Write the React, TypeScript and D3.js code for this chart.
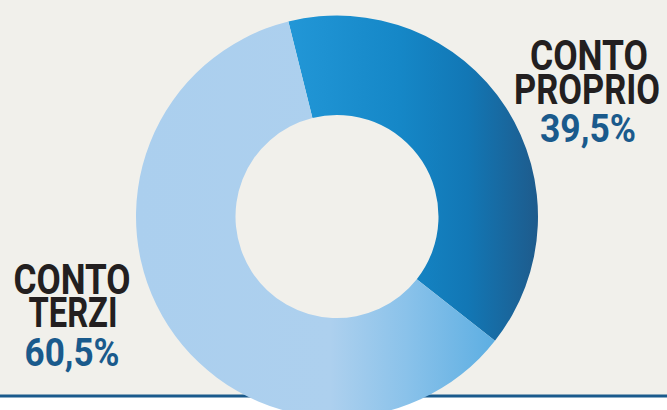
import React from "react";
import * as d3 from "d3";

const categories = ["CONTO PROPRIO", "CONTO TERZI"];
const shares = [39.5, 60.5];
const percentLabels = ["39,5%", "60,5%"];

const W = 667;
const H = 410;
const cx = 337;
const cy = 216.5;
const outerR = 201;
const innerR = 101.5;
const startDeg = -14;

export default function App() {
  const pie = d3
    .pie<number>()
    .sort(null)
    .value((d) => d)
    .startAngle((startDeg * Math.PI) / 180)
    .endAngle((startDeg * Math.PI) / 180 + 2 * Math.PI);
  const arcs = pie(shares);
  const arc = d3.arc<d3.PieArcDatum<number>>().innerRadius(innerR).outerRadius(outerR);
  const fills = ["url(#gDark)", "url(#gLight)"];

  const font = "Roboto, 'Noto Sans', sans-serif";
  const black = "#231f20";
  const blue = "#1a5a8c";

  return (
    <svg
      width={W}
      height={H}
      viewBox={`0 0 ${W} ${H}`}
      style={{ position: "fixed", top: 0, left: 0, display: "block" }}
    >
      <defs>
        <linearGradient id="gDark" gradientUnits="userSpaceOnUse" x1={287 - cx} y1={0} x2={538 - cx} y2={0}>
          <stop offset="0" stopColor="#2297d7" />
          <stop offset="0.45" stopColor="#1587c7" />
          <stop offset="0.72" stopColor="#1277b5" />
          <stop offset="1" stopColor="#1e5b8c" />
        </linearGradient>
        <linearGradient id="gLight" gradientUnits="userSpaceOnUse" x1={135 - cx} y1={0} x2={497 - cx} y2={0}>
          <stop offset="0" stopColor="#abcfee" />
          <stop offset="0.54" stopColor="#add0ee" />
          <stop offset="0.75" stopColor="#8ac2ea" />
          <stop offset="1" stopColor="#5caee2" />
        </linearGradient>
      </defs>
      <rect x={0} y={0} width={W} height={H} fill="#ffffff" />
      <rect x={0} y={0} width={W} height={396} fill="#f1f0eb" />
      <line x1={0} x2={W} y1={396} y2={396} stroke={blue} strokeWidth={3} />
      <g transform={`translate(${cx},${cy})`}>
        {arcs.map((a, i) => (
          <path key={categories[i]} d={arc(a) || ""} fill={fills[i]} />
        ))}
      </g>
      <g fontFamily={font} fontWeight={700} textAnchor="middle">
        <text x={589} y={70} fontSize={43} fill={black} textLength={118} lengthAdjust="spacingAndGlyphs">CONTO</text>
        <text x={587} y={104} fontSize={43} fill={black} textLength={146} lengthAdjust="spacingAndGlyphs">PROPRIO</text>
        <text x={588} y={142} fontSize={38} fill={blue} textLength={96} lengthAdjust="spacingAndGlyphs">{percentLabels[0]}</text>

        <text x={72} y={294} fontSize={43} fill={black} textLength={117} lengthAdjust="spacingAndGlyphs">CONTO</text>
        <text x={73} y={327} fontSize={43} fill={black} textLength={89} lengthAdjust="spacingAndGlyphs">TERZI</text>
        <text x={72} y={366} fontSize={38} fill={blue} textLength={95} lengthAdjust="spacingAndGlyphs">{percentLabels[1]}</text>
      </g>
    </svg>
  );
}
